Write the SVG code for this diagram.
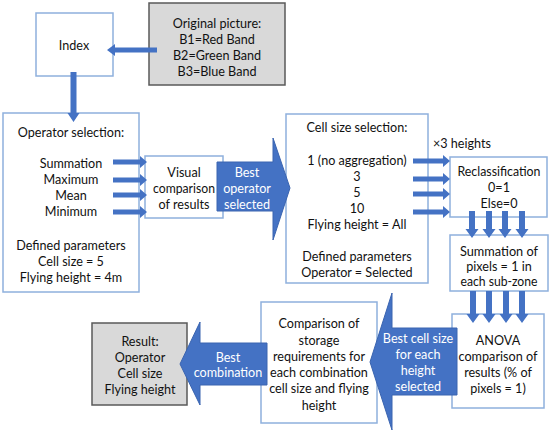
<svg xmlns="http://www.w3.org/2000/svg" width="550" height="434" viewBox="0 0 550 434">
<defs>
<style>
text{font-family:Lato,"Open Sans","Liberation Sans",sans-serif;font-size:12.6px;fill:#111;text-anchor:middle}
.box{fill:#fff;stroke:#8eb0dd;stroke-width:1.5}
.gbox{fill:#d9d9d9;stroke:#595959;stroke-width:1.5}
.arr{fill:#4472c4;stroke:none}
.big{fill:#4472c4;stroke:#3a64b0;stroke-width:1}
.w{fill:#fff}
</style>
</defs>
<rect width="550" height="434" fill="#fff"/>
<g id="index"><rect class="box" x="36" y="13" width="77" height="63"/><text x="74" y="50">Index</text></g>
<g id="original"><rect class="gbox" x="149" y="3" width="136" height="82"/>
<text x="217" y="28">Original picture:</text><text x="217" y="44">B1=Red Band</text><text x="217" y="60">B2=Green Band</text><text x="217" y="76">B3=Blue Band</text></g>
<g id="operator"><rect class="box" x="3" y="113" width="136" height="179"/>
<text x="71" y="137">Operator selection:</text>
<text x="71" y="168">Summation</text><text x="71" y="184">Maximum</text><text x="71" y="200">Mean</text><text x="71" y="216">Minimum</text>
<text x="71" y="250">Defined parameters</text><text x="71" y="266">Cell size = 5</text><text x="71" y="282">Flying height = 4m</text></g>
<g id="visual"><rect class="box" x="145" y="156" width="78" height="62"/>
<text x="184" y="177">Visual</text><text x="184" y="193" textLength="62" lengthAdjust="spacingAndGlyphs">comparison</text><text x="184" y="209">of results</text></g>
<g id="cellsize"><rect class="box" x="286" y="114" width="142" height="169"/>
<text x="357" y="132">Cell size selection:</text>
<text x="357" y="165">1 (no aggregation)</text><text x="357" y="181">3</text><text x="357" y="197">5</text><text x="357" y="213">10</text>
<text x="357" y="229">Flying height = All</text>
<text x="357" y="261">Defined parameters</text><text x="357" y="277">Operator = Selected</text></g>
<text x="433" y="148" style="text-anchor:start">×3 heights</text>
<g id="reclass"><rect class="box" x="450" y="157" width="97" height="60"/>
<text x="499" y="176" textLength="83" lengthAdjust="spacingAndGlyphs">Reclassification</text><text x="499" y="192">0=1</text><text x="499" y="208">Else=0</text></g>
<g id="summation"><rect class="box" x="450" y="235" width="98" height="56"/>
<text x="499" y="256" textLength="78" lengthAdjust="spacingAndGlyphs">Summation of</text><text x="499" y="271">pixels = 1 in</text><text x="499" y="286" textLength="77" lengthAdjust="spacingAndGlyphs">each sub-zone</text></g>
<g id="anova"><rect class="box" x="452" y="314" width="92" height="94"/>
<text x="498" y="345">ANOVA</text><text x="498" y="361" textLength="79" lengthAdjust="spacingAndGlyphs">comparison of</text><text x="498" y="377">results (% of</text><text x="498" y="393">pixels = 1)</text></g>
<g id="storage"><rect class="box" x="261" y="302" width="116" height="121"/>
<text x="319" y="328">Comparison of</text><text x="319" y="345">storage</text><text x="319" y="361">requirements for</text><text x="319" y="377">each combination</text><text x="319" y="393">cell size and flying</text><text x="319" y="410">height</text></g>
<g id="result"><rect class="gbox" x="92" y="323" width="95" height="82"/>
<text x="140" y="346">Result:</text><text x="140" y="362">Operator</text><text x="140" y="378">Cell size</text><text x="140" y="394">Flying height</text></g>
<g id="connectors">
<path class="arr" d="M157,47.5 H115 V44 L107,50 L115,56 V52.5 H157 Z"/>
<path class="arr" d="M70.5,72 V113 H67.5 L73.5,122 L79.5,113 H76.5 V72 Z"/>
<path class="arr" d="M113,159.5 H140 V156 L147,162 L140,168 V164.5 H113 Z"/>
<path class="arr" d="M113,177.5 H140 V174 L147,180 L140,186 V182.5 H113 Z"/>
<path class="arr" d="M113,192.5 H140 V189 L147,195 L140,201 V197.5 H113 Z"/>
<path class="arr" d="M113,209.5 H140 V206 L147,212 L140,218 V214.5 H113 Z"/>
<path class="arr" d="M413,158.5 H443 V155 L450,161 L443,167 V163.5 H413 Z"/>
<path class="arr" d="M413,176.5 H443 V173 L450,179 L443,185 V181.5 H413 Z"/>
<path class="arr" d="M413,191.5 H443 V188 L450,194 L443,200 V196.5 H413 Z"/>
<path class="arr" d="M413,209.5 H443 V206 L450,212 L443,218 V214.5 H413 Z"/>
<path class="arr" d="M469,211 V229 H465.5 L472,238 L478.5,229 H475 V211 Z"/>
<path class="arr" d="M486,211 V229 H482.5 L489,238 L495.5,229 H492 V211 Z"/>
<path class="arr" d="M502,211 V229 H498.5 L505,238 L511.5,229 H508 V211 Z"/>
<path class="arr" d="M519,211 V229 H515.5 L522,238 L528.5,229 H525 V211 Z"/>
<path class="arr" d="M470,291 V314 H466.5 L473,323 L479.5,314 H476 V291 Z"/>
<path class="arr" d="M486,291 V314 H482.5 L489,323 L495.5,314 H492 V291 Z"/>
<path class="arr" d="M503,291 V314 H499.5 L506,323 L512.5,314 H509 V291 Z"/>
<path class="arr" d="M519,291 V314 H515.5 L522,323 L528.5,314 H525 V291 Z"/>
<path class="big" d="M217,162 H273 V138 L290,188 L273,240 V211 H217 Z"/>
<text class="w" x="247" y="177">Best</text><text class="w" x="247" y="193">operator</text><text class="w" x="247" y="209">selected</text>
<path class="big" d="M457,328 H392 V293 L370,362 L392,430 V395 H457 Z"/>
<text class="w" x="418" y="343">Best cell size</text><text class="w" x="418" y="359">for each</text><text class="w" x="418" y="375">height</text><text class="w" x="418" y="391">selected</text>
<path class="big" d="M267,343 H200 V322 L180,364 L200,405 V385 H267 Z"/>
<text class="w" x="228" y="362">Best</text><text class="w" x="228" y="377">combination</text>
</g>
</svg>
